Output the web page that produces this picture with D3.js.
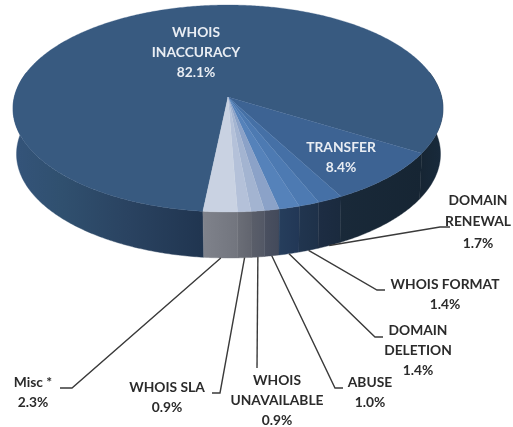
<!DOCTYPE html>
<html><head><meta charset="utf-8">
<script src="https://cdn.jsdelivr.net/npm/d3@7/dist/d3.min.js"></script>
<style>html,body{margin:0;background:#fff}svg{display:block;filter:blur(0.6px)}</style>
</head><body><div id="c"></div>
<script>
const categories = ["Misc *","WHOIS SLA","WHOIS UNAVAILABLE","ABUSE","DOMAIN DELETION","WHOIS FORMAT","DOMAIN RENEWAL","TRANSFER","WHOIS INACCURACY"];
const values = [2.3,0.9,0.9,1.0,1.4,1.4,1.7,8.4,82.1];
const labelLines = [["Misc *"],["WHOIS SLA"],["WHOIS","UNAVAILABLE"],["ABUSE"],["DOMAIN","DELETION"],["WHOIS FORMAT"],["DOMAIN","RENEWAL"],["TRANSFER"],["WHOIS","INACCURACY"]];
const topColors = ["#c9d2e2","#b4c1d9","#a3b4d1","#8ba2c8","#5582ba","#4d7ab2","#4570a6","#3d6393","#385a80"];

const W=513,H=427;
const svg=d3.select("#c").append("svg").attr("width",W).attr("height",H);
const defs=svg.append("defs");
const k=-0.111, s=Math.sqrt(1-k*k);
const topE={cx:228,cy:108.5,rx:215,ry:103.5};
const botE={cx:228.5,cy:154,rx:212,ry:104};
function proj(e,t){const X=Math.sin(t),Y=Math.cos(t),d=1+k*Y;return [e.cx+e.rx*s*X/d, e.cy+e.ry*(Y+k)/d];}
const startDeg=-6;
const pie=d3.pie().sort(null).value(d=>d).startAngle(startDeg*Math.PI/180).endAngle((startDeg+360)*Math.PI/180);
const arcs=pie(values);
const line=d3.line();
const samples=(a,b)=>{const n=Math.max(2,Math.ceil(Math.abs(b-a)/0.01));return d3.range(n+1).map(i=>a+(b-a)*i/n);};

const wallStops=[["#7f828b","#72757e"],["#6b6e77","#62656f"],["#5a5e69","#535866"],["#4a5060","#434a5b"],["#263e5c","#223756"],["#21354f","#1e3149"],["#1d2d43","#1a2a3e"],["#192939","#162533"]];
function grad(id,x0,x1,stops){
  const g=defs.append("linearGradient").attr("id",id).attr("gradientUnits","userSpaceOnUse").attr("x1",x0).attr("x2",x1).attr("y1",0).attr("y2",0);
  stops.forEach(([o,c])=>g.append("stop").attr("offset",o).attr("stop-color",c));
  return `url(#${id})`;
}
const walls=svg.append("g");
function wall(a,b,fill){
  const ts=samples(a,b);
  const pts=ts.map(t=>proj(topE,t)).concat(ts.slice().reverse().map(t=>proj(botE,t)));
  walls.append("path").attr("d",line(pts)+"Z").attr("fill",fill).attr("stroke",fill).attr("stroke-width",0.4);
}
const H90=Math.PI/2+0.25;
const lastA=arcs[arcs.length-1];
wall(lastA.startAngle,H90,grad("wr",420,443,[[0,"#162533"],[1,"#182a3c"]]));
wall(-H90,lastA.endAngle-2*Math.PI,grad("wl",13,203,[[0,"#34547a"],[0.25,"#30506f"],[0.6,"#2a4361"],[1,"#203550"]]));
arcs.slice(0,-1).forEach((d,i)=>{
  const a=proj(topE,d.startAngle)[0],b=proj(topE,d.endAngle)[0];
  wall(d.startAngle,d.endAngle,grad("w"+i,a,b,[[0,wallStops[i][0]],[1,wallStops[i][1]]]));
});

const tops=svg.append("g");
const centre=[topE.cx, topE.cy+topE.ry*k];
arcs.slice().reverse().forEach((d)=>{
  const pts=[centre].concat(samples(d.startAngle,d.endAngle).map(t=>proj(topE,t)));
  tops.append("path").attr("d",line(pts)+"Z").attr("fill",topColors[d.index]).attr("stroke",topColors[d.index]).attr("stroke-width",0.3);
});

const leaders=[[72,388,60,388],[220,393,212,393],[257,368,257,368],[335,388,343,388],[375,337,383,337],[377,290,385,290],[440,227,450,227]];
const textPos=[[33,382],[167,387],[277,380],[370,382],[418,330],[445,284],[478,200],[341,147],[196,32]];
const lh=[20.5,20,20,20,20,20,21.5,20,20];
const leaderG=svg.append("g").attr("fill","none").attr("stroke","#3a3a3a").attr("stroke-width",1.4);
leaders.forEach((l,i)=>{
  const d=arcs[i], mid=(d.startAngle+d.endAngle)/2, p=proj(botE,mid);
  leaderG.append("path").attr("d",line([p,[l[0],l[1]],[l[2],l[3]]]));
});
const textG=svg.append("g").attr("font-family","Lato, sans-serif").attr("font-weight",700).attr("font-size",13.8).attr("text-anchor","middle");
categories.forEach((c,i)=>{
  const lines=labelLines[i].concat([values[i].toFixed(1)+"%"]);
  const col=i>=7?"#e9edf3":"#2b2b2b";
  lines.forEach((t,j)=>{
    textG.append("text").attr("x",textPos[i][0]).attr("y",textPos[i][1]+j*lh[i]).attr("dy","0.35em").attr("fill",col).text(t);
  });
});
</script></body></html>
